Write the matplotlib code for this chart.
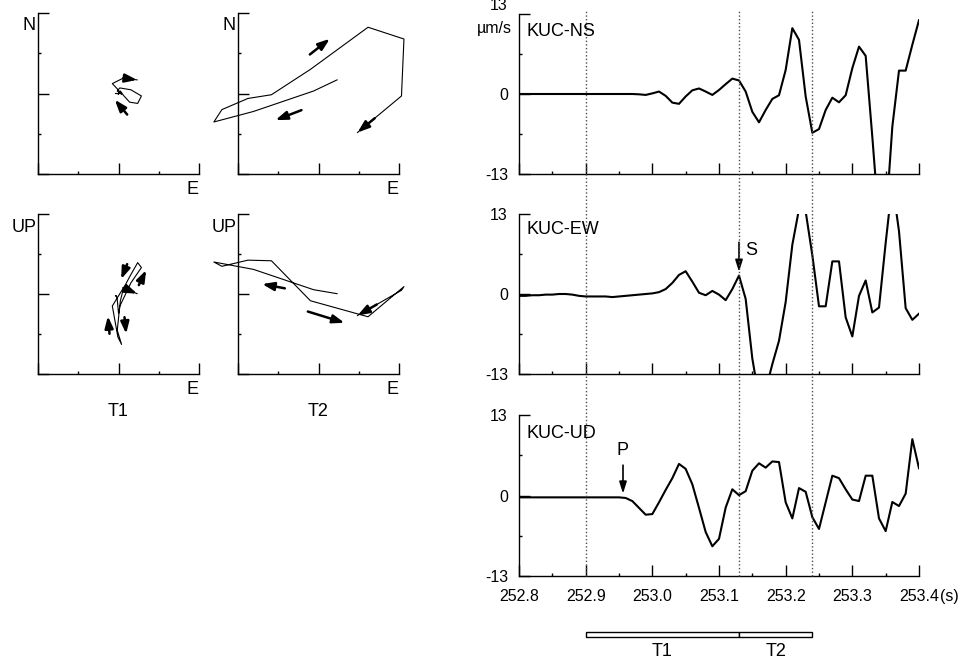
import numpy as np
import matplotlib
matplotlib.use("Agg")
import matplotlib.pyplot as plt
from matplotlib.lines import Line2D
from matplotlib.patches import Rectangle
from matplotlib.transforms import blended_transform_factory

plt.rcParams['font.family'] = ['Liberation Sans', 'DejaVu Sans']

# KUC velocity records (um/s), 100 Hz samples from 252.80 s
t_start = 252.80
dt = 0.01

ns = [0.0, 0.0, 0.0, 0.0, 0.0, 0.0, 0.0, 0.0, 0.0, 0.0,
      0.0, 0.0, 0.0, 0.0, 0.0, 0.0, 0.0, 0.0, -0.05, -0.15,
      0.1, 0.4, -0.3, -1.4, -1.6, -0.4, 0.6, 0.9, 0.4, -0.15,
      0.65, 1.6, 2.5, 2.2, 0.4, -2.9, -4.6, -2.6, -0.8, -0.2,
      3.9, 10.7, 8.8, -0.4, -6.3, -5.7, -2.6, -0.6, -1.35, -0.2,
      4.2, 7.7, 6.2, -7.0, -21.0, -21.0, -5.3, 3.8, 3.8, 8.0,
      12.0]

ew = [-0.3, -0.3, -0.2, -0.2, -0.1, -0.1, 0.0, 0.0, -0.1, -0.3,
      -0.4, -0.4, -0.4, -0.4, -0.5, -0.4, -0.3, -0.2, -0.1, 0.0,
      0.1, 0.3, 0.8, 1.8, 3.1, 3.7, 2.0, 0.2, -0.2, 0.5,
      -0.1, -1.0, 0.8, 3.0, -0.8, -10.5, -16.9, -15.6, -11.4, -7.6,
      -1.3, 8.0, 13.8, 13.4, 6.3, -2.0, -2.0, 5.3, 5.3, -3.8,
      -6.9, -0.3, 2.2, -3.0, -2.2, 8.3, 18.0, 10.2, -2.3, -4.2,
      -3.2]

ud = [-0.3, -0.3, -0.3, -0.3, -0.3, -0.3, -0.3, -0.3, -0.3, -0.3,
      -0.3, -0.3, -0.3, -0.3, -0.3, -0.3, -0.4, -0.9, -2.0, -3.1,
      -3.0, -1.1, 0.9, 2.8, 5.1, 4.3, 1.8, -2.0, -5.9, -8.2,
      -7.0, -1.95, 1.0, 0.05, 0.7, 4.0, 5.2, 4.5, 5.5, 5.4,
      -1.1, -3.7, 1.2, 0.6, -3.5, -5.4, -1.1, 3.2, 2.8, 1.0,
      -0.65, -0.9, 3.2, 3.2, -3.7, -5.75, -1.05, -1.7, 0.3, 9.1,
      4.4]

t = np.round(t_start + dt * np.arange(len(ns)), 2)

# phase picks and particle motion windows
p_time = 252.956
s_time = 253.13
win_t1 = (252.90, 253.13)
win_t2 = (253.13, 253.24)

amp = 13  # plotted range, +-um/s

# direction arrows drawn beside the particle paths: (tail, head) in um/s
arrows_t1_ne = [((1.4, -3.4), (-0.6, -1.0))]
arrows_t1_ue = [((1.4, 4.85), (0.43, 2.42)),
                ((3.28, 1.45), (4.47, 3.88)),
                ((-1.45, -6.46), (-1.72, -3.6)),
                ((0.97, -3.77), (1.24, -6.46))]
arrows_t2_ne = [((-1.4, 6.3), (1.83, 8.84)),
                ((-2.75, -2.69), (-6.95, -4.3))]
arrows_t2_ue = [((-5.44, 0.92), (-9.1, 1.62)),
                ((-1.72, -2.85), (4.2, -4.68))]

W, H = 966, 663
fig = plt.figure(figsize=(W / 100, H / 100), dpi=100)

TICK_FS = 11.5
LABEL_FS = 13


def px_axes(left, top, w, h):
    return fig.add_axes([left / W, 1 - (top + h) / H, w / W, h / H])


def px_text(x, y, s, **kw):
    kw.setdefault("fontsize", LABEL_FS)
    fig.text(x / W, 1 - y / H, s, **kw)


def frame(ax):
    for side in ["top", "right"]:
        ax.spines[side].set_visible(False)
    for side in ["left", "bottom"]:
        ax.spines[side].set_linewidth(1.0)
    ax.set_ylim(-amp, amp)
    ax.set_yticks([-amp, 0, amp])
    ax.set_yticks([-amp / 2, amp / 2], minor=True)
    ax.tick_params(which="major", direction="in", length=8, width=1.0,
                   labelsize=TICK_FS)
    ax.tick_params(which="minor", direction="in", length=2, width=1.0)


def arrow(ax, tail, head, lw=1.8, hl=0.7, hw=0.25):
    ax.annotate("", xy=head, xytext=tail, xycoords="data",
                annotation_clip=False,
                arrowprops=dict(arrowstyle=f"-|>,head_length={hl},head_width={hw}",
                                lw=lw, color="black", shrinkA=0, shrinkB=0))


def hodogram(ax, h, v, win, arrows):
    frame(ax)
    ax.set_xlim(-amp, amp)
    ax.set_xticks([-amp, 0, amp])
    ax.set_xticks([-amp / 2, amp / 2], minor=True)
    ax.tick_params(labelbottom=False, labelleft=False)
    sel = (t >= win[0] - 1e-6) & (t <= win[1] + 1e-6)
    x = np.asarray(h)[sel]
    y = np.asarray(v)[sel]
    ax.plot(x, y, color="black", lw=0.8, clip_on=False)
    # arrowhead on the final step of the path
    dx, dy = x[-1] - x[-2], y[-1] - y[-2]
    seg = np.hypot(dx, dy)
    k = min(seg, 3.6) / seg
    arrow(ax, (x[-1] - k * dx, y[-1] - k * dy), (x[-1], y[-1]))
    for tail, head in arrows:
        arrow(ax, tail, head)


# particle motion plots
ax_t1_ne = px_axes(38, 13, 161, 161)
ax_t2_ne = px_axes(238, 13, 161, 161)
ax_t1_ue = px_axes(38, 214, 161, 160)
ax_t2_ue = px_axes(238, 214, 161, 160)

hodogram(ax_t1_ne, ew, ns, win_t1, arrows_t1_ne)
hodogram(ax_t2_ne, ew, ns, win_t2, arrows_t2_ne)
hodogram(ax_t1_ue, ew, ud, win_t1, arrows_t1_ue)
hodogram(ax_t2_ue, ew, ud, win_t2, arrows_t2_ue)

for x0 in [0, 200]:
    px_text(x0 + 35.5, 26, "N", ha="right", va="center")
    px_text(x0 + 37, 228, "UP", ha="right", va="center")
    px_text(x0 + 198, 189, "E", ha="right", va="center")
    px_text(x0 + 198, 389, "E", ha="right", va="center")
px_text(118, 412, "T1", ha="center", va="center")
px_text(318, 412, "T2", ha="center", va="center")

# seismogram panels
ax_ns = px_axes(519, 14, 400, 160)
ax_ew = px_axes(519, 214, 400, 160)
ax_ud = px_axes(519, 415, 400, 161)

for ax, trace in [(ax_ns, ns), (ax_ew, ew), (ax_ud, ud)]:
    frame(ax)
    ax.plot(t, trace, color="black", lw=1.5)
    ax.set_xlim(252.8, 253.4)
    ax.set_xticks(np.round(np.arange(252.8, 253.41, 0.1), 1))
    ax.set_xticks(np.round(np.arange(252.85, 253.4, 0.1), 2), minor=True)
    ax.tick_params(axis="y", which="major", pad=8)
    ax.tick_params(axis="x", which="major", pad=9.5)
    ax.set_yticklabels([f"{-amp}", "0", f"{amp}"])
    if ax is not ax_ud:
        ax.tick_params(labelbottom=False)

ax_ud.set_xticklabels([f"{v:.1f}" for v in ax_ud.get_xticks()])
ax_ud.annotate("(s)", xy=(1, 0), xycoords="axes fraction", xytext=(15, -9.5),
               textcoords="offset points", ha="left", va="top",
               fontsize=TICK_FS)

# top of the NS scale carries the unit underneath
ax_ns.set_yticklabels([f"{-amp}", "0", ""])
px_text(507, 6, f"{amp}", ha="right", va="center", fontsize=TICK_FS)
px_text(512, 33, "\u00b5m/s", ha="right", va="baseline", fontsize=TICK_FS)

px_text(526, 31, "KUC-NS", ha="left", va="center")
px_text(527, 230, "KUC-EW", ha="left", va="center")
px_text(527, 433, "KUC-UD", ha="left", va="center")

# phase picks
arrow(ax_ud, (p_time, 4.9), (p_time, 0.3), lw=1.2, hl=0.7, hw=0.22)
ax_ud.text(p_time, 7.2, "P", ha="center", va="center", fontsize=LABEL_FS)
arrow(ax_ew, (s_time, 8.4), (s_time, 3.6), lw=1.2, hl=0.7, hw=0.22)
ax_ew.text(s_time + 0.018, 7.0, "S", ha="center", va="center",
           fontsize=LABEL_FS)

# window markers through all three traces
trans = blended_transform_factory(ax_ud.transData, fig.transFigure)
y_lo = ax_ud.get_position().y0
y_hi = 1 - 11 / H
for xm in [win_t1[0], win_t1[1], win_t2[1]]:
    fig.add_artist(Line2D([xm, xm], [y_lo, y_hi], transform=trans,
                          ls=(0, (1, 1.6)), lw=1.0, color="0.3"))

# window bar under the time axis
bar_y0 = 1 - 636.5 / H
bar_h = 5 / H
for (a, b), name in [(win_t1, "T1"), (win_t2, "T2")]:
    fig.add_artist(Rectangle((a, bar_y0), b - a, bar_h, transform=trans,
                             facecolor="white", edgecolor="black", lw=1.0))
    fig.text((a + b) / 2, 1 - 652 / H, name, transform=trans,
             ha="center", va="center", fontsize=LABEL_FS)

fig.savefig("out.png", dpi=100)
